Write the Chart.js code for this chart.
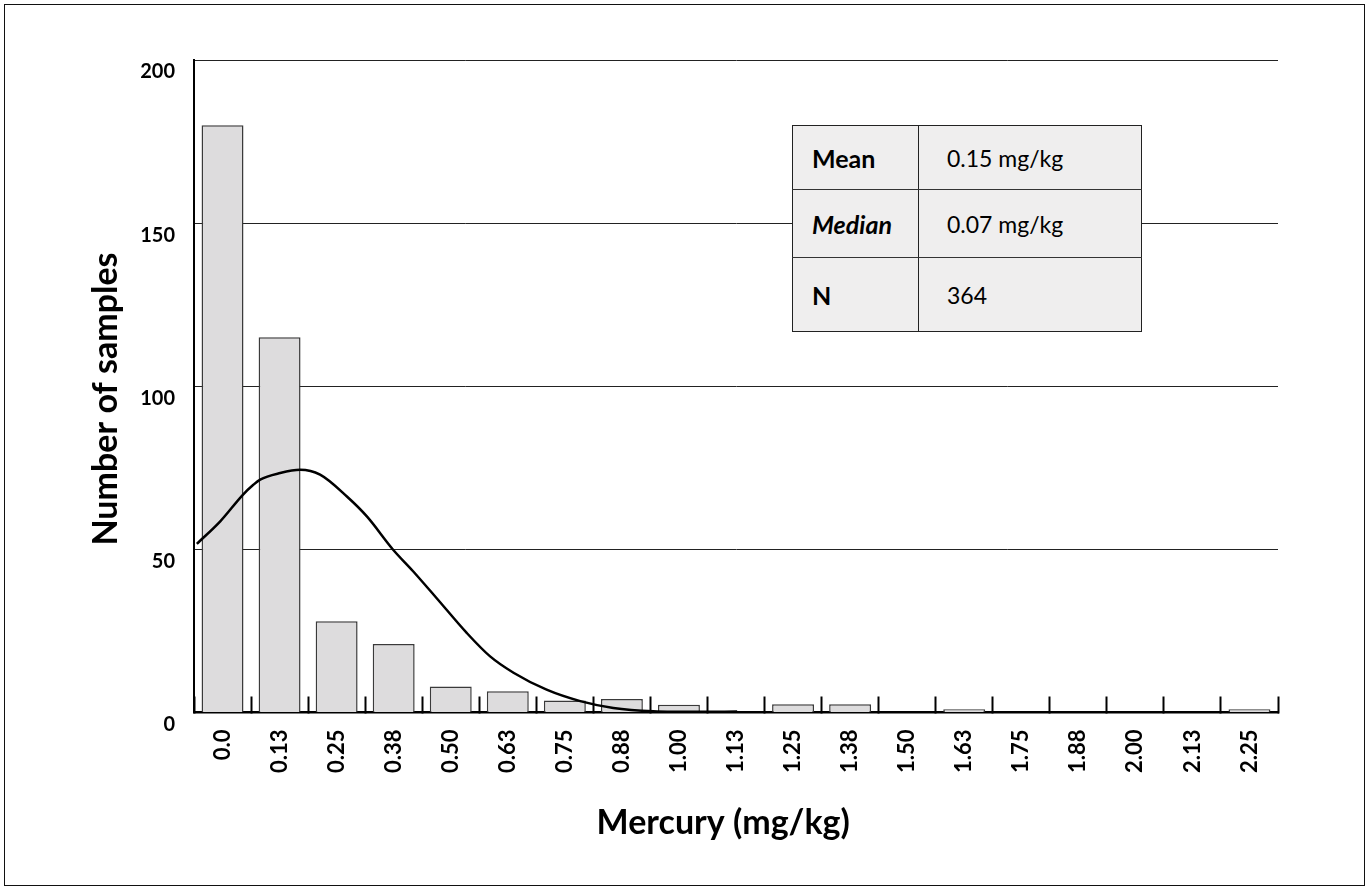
<!DOCTYPE html>
<html>
<head>
<meta charset="utf-8">
<title>Mercury (mg/kg) histogram</title>
<script src="https://cdn.jsdelivr.net/npm/chart.js@4.4.0/dist/chart.umd.min.js"></script>
<style>
  body { margin: 0; background: #fff; font-family: Lato, "Open Sans", sans-serif; }
  #wrap { position: relative; width: 1371px; height: 890px; }
  #frame { position: absolute; left: 4px; top: 4px; width: 1361px; height: 882px;
           border: 1.5px solid #111; box-sizing: border-box; pointer-events: none; }
  #stats { position: absolute; left: 792px; top: 125px; width: 350px; height: 206px;
           background: #efeeee; border: 1.5px solid #222; box-sizing: border-box;
           border-collapse: collapse; font-size: 23px; color: #000; }
  #stats td { padding: 0; vertical-align: middle; }
  #stats td.k { width: 106px; padding-left: 19px; font-size: 25px; font-weight: 700;
                border-right: 1.5px solid #222; }
  #stats td.v { padding-left: 28px; }
  #stats tr.r1 { height: 64px; }
  #stats tr.r2 { height: 68px; }
  #stats tr.r3 { height: 74px; }
  #stats tr.r1 td, #stats tr.r2 td { border-bottom: 1px solid #333; }
</style>
</head>
<body>
<div id="wrap">
  <canvas id="histChart" width="1371" height="890"></canvas>
  <table id="stats">
    <tr class="r1"><td class="k">Mean</td><td class="v">0.15 mg/kg</td></tr>
    <tr class="r2"><td class="k"><i>Median</i></td><td class="v">0.07 mg/kg</td></tr>
    <tr class="r3"><td class="k">N</td><td class="v">364</td></tr>
  </table>
  <div id="frame"></div>
</div>
<script>
// bins and counts
const binLabels = ['0.0', '0.13', '0.25', '0.38', '0.50', '0.63', '0.75', '0.88', '1.00', '1.13',
                   '1.25', '1.38', '1.50', '1.63', '1.75', '1.88', '2.00', '2.13', '2.25'];
const sampleCounts = [180, 115, 28, 21, 8, 6.5, 3.7, 4.1, 2.4, 0,
                      2.5, 2.5, 0, 1, 0, 0, 0, 0, 1];

// fitted curve, x in bin-index units (bin i centred on i)
const curveX = [-0.45, -0.04, 0.36, 0.54, 0.66, 1.01, 1.36, 1.71, 2.18, 2.53, 2.99,
                3.34, 3.75, 4.28, 4.69, 5.10, 5.68, 6.27, 6.85, 7.55, 8.37, 9.02];
const curveY = [51.7, 58.6, 66.8, 69.8, 71.4, 73.4, 74.4, 72.9, 66.2, 60.1, 49.9,
                43.3, 35.1, 24.4, 17.2, 12.2, 7.0, 3.5, 1.4, 0.4, 0.2, 0.3];

const yMax = 200;
const yStep = 50;

Chart.defaults.font.family = "Lato, 'Open Sans', sans-serif";
Chart.defaults.color = '#000';

const curvePoints = curveX.map((x, i) => ({ x: x, y: curveY[i] }));

new Chart(document.getElementById('histChart'), {
    type: 'bar',
    data: {
        labels: binLabels,
        datasets: [{
            type: 'line',
            data: curvePoints,
            xAxisID: 'x2',
            borderColor: '#000',
            borderWidth: 2.5,
            pointRadius: 0,
            cubicInterpolationMode: 'monotone',
            fill: false,
            order: 0
        }, {
            data: sampleCounts,
            xAxisID: 'x',
            grouped: false,
            backgroundColor: '#dddcdd',
            borderColor: '#3a3a3a',
            borderWidth: 1.5,
            categoryPercentage: 1.0,
            barPercentage: 0.735,
            order: 1
        }]
    },
    options: {
        responsive: false,
        animation: false,
        layout: { padding: { left: 0, top: 60, right: 93, bottom: 0 } },
        plugins: { legend: { display: false }, tooltip: { enabled: false } },
        scales: {
            x: {
                type: 'category',
                offset: true,
                grid: {
                    offset: true,
                    drawOnChartArea: false,
                    drawTicks: true,
                    tickLength: -16,
                    tickWidth: 2,
                    tickColor: '#000'
                },
                border: { display: true, color: '#000', width: 2.5 },
                ticks: {
                    autoSkip: false,
                    maxRotation: 90,
                    minRotation: 90,
                    padding: 33,
                    font: { size: 22, weight: 'bold' }
                },
                title: {
                    display: true,
                    text: 'Mercury (mg/kg)\u2003',
                    font: { size: 34, weight: 'bold' },
                    padding: { top: 0, bottom: 47 }
                },
                afterFit: scale => { scale.height = 177.5; }
            },
            x2: {
                type: 'linear',
                display: false,
                offset: false,
                grid: { offset: false },
                min: -0.5,
                max: binLabels.length - 0.5
            },
            y: {
                min: 0,
                max: yMax,
                grid: { color: '#222', lineWidth: 1, drawTicks: false },
                border: { display: true, color: '#000', width: 2 },
                ticks: {
                    stepSize: yStep,
                    padding: 19,
                    labelOffset: 12,
                    font: { size: 20, weight: 'bold' }
                },
                title: {
                    display: true,
                    text: 'Number of samples\u2003',
                    font: { size: 34, weight: 'bold' },
                    padding: { top: 86, bottom: 0 }
                },
                afterFit: scale => { scale.width = 194; }
            }
        }
    }
});
</script>
</body>
</html>
